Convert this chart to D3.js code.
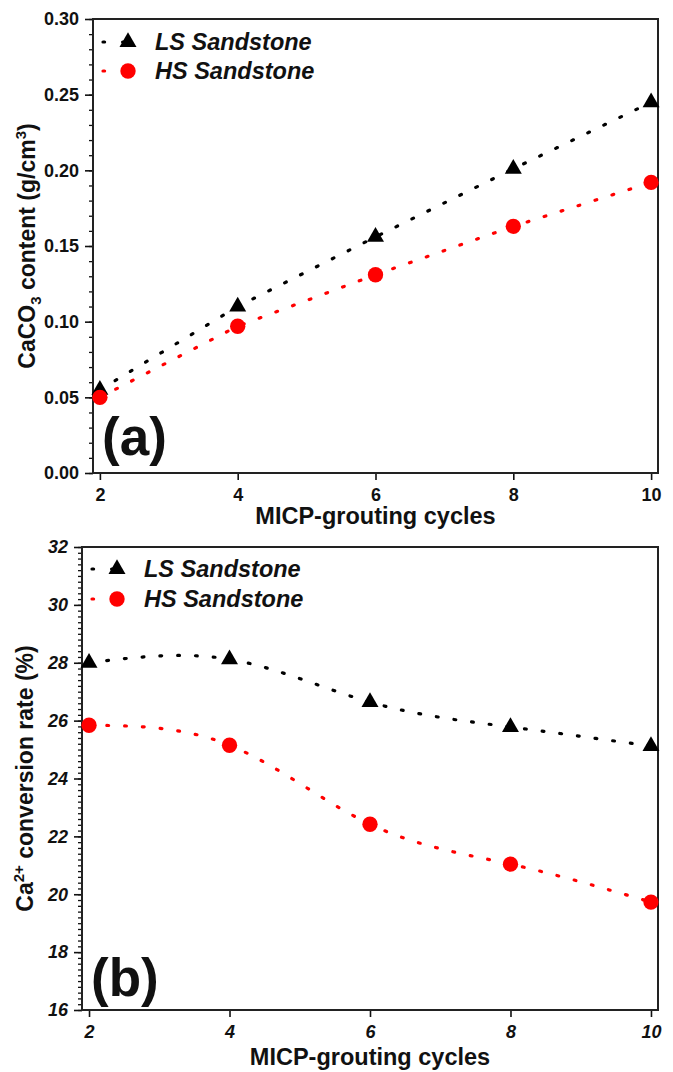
<!DOCTYPE html>
<html>
<head>
<meta charset="utf-8">
<script src="https://cdn.jsdelivr.net/npm/d3@7"></script>
<style>
  html, body { margin: 0; padding: 0; background: #fff; }
  svg { display: block; font-family: "Liberation Sans", Arial, sans-serif; }
</style>
</head>
<body>
<div id="chart"></div>
<script>
// data
const cycles = [2, 4, 6, 8, 10];
const lsContent = [0.055, 0.110, 0.156, 0.201, 0.245];
const hsContent = [0.050, 0.097, 0.131, 0.163, 0.192];
const lsConversion = [28.0, 28.12, 26.64, 25.78, 25.12];
const hsConversion = [25.84, 25.15, 22.42, 21.04, 19.73];
const contentTicks = [0.00, 0.05, 0.10, 0.15, 0.20, 0.25, 0.30];
const conversionTicks = [16, 18, 20, 22, 24, 26, 28, 30, 32];
const seriesNames = ['LS Sandstone', 'HS Sandstone'];

const W = 673, H = 1072;
const svg = d3.select('#chart').append('svg')
  .attr('width', W)
  .attr('height', H);

function drawPanel(p) {
  const x = d3.scaleLinear().domain([1.9, 10.1]).range([p.left, p.right]);
  const y = d3.scaleLinear().domain(p.yDomain).range([p.bottom, p.top]);
  const g = svg.append('g');

  // minor y ticks
  g.append('g')
    .attr('transform', `translate(${p.left},0)`)
    .call(d3.axisLeft(y).tickValues(p.minor).tickSize(4).tickFormat(''))
    .call(a => a.select('.domain').remove())
    .call(a => a.selectAll('line').attr('stroke', '#111').attr('stroke-width', 1.3));

  // major y axis
  g.append('g')
    .attr('transform', `translate(${p.left},0)`)
    .call(d3.axisLeft(y).tickValues(p.yTicks).tickSize(8).tickPadding(6).tickFormat(p.yFormat))
    .call(a => a.select('.domain').remove())
    .call(a => a.selectAll('line').attr('stroke', '#111').attr('stroke-width', 1.6))
    .call(a => a.selectAll('text')
      .attr('font-size', 18).attr('font-weight', 'bold')
      .attr('font-style', p.italicTicks ? 'italic' : 'normal')
      .attr('fill', '#111'));

  // x axis
  g.append('g')
    .attr('transform', `translate(0,${p.bottom})`)
    .call(d3.axisBottom(x).tickValues(cycles).tickSize(7).tickPadding(8).tickFormat(d3.format('d')))
    .call(a => a.select('.domain').remove())
    .call(a => a.selectAll('line').attr('stroke', '#111').attr('stroke-width', 1.6))
    .call(a => a.selectAll('text')
      .attr('font-size', 18).attr('font-weight', 'bold')
      .attr('font-style', p.italicTicks ? 'italic' : 'normal')
      .attr('fill', '#111'));

  // frame
  g.append('rect')
    .attr('x', p.left).attr('y', p.top)
    .attr('width', p.right - p.left).attr('height', p.bottom - p.top)
    .attr('fill', 'none').attr('stroke', '#222').attr('stroke-width', 2);

  const line = d3.line()
    .x((d, i) => x(cycles[i]))
    .y(d => y(d))
    .curve(p.curve);

  const series = [
    { values: p.ls, color: '#000', shape: 'tri' },
    { values: p.hs, color: '#f00', shape: 'dot' }
  ];

  series.forEach(s => {
    g.append('path')
      .datum(s.values)
      .attr('d', line)
      .attr('fill', 'none')
      .attr('stroke', s.color)
      .attr('stroke-width', 3.2)
      .attr('stroke-linecap', 'round')
      .attr('stroke-dasharray', '1.8 16');
  });

  const tri = d3.symbol().type(d3.symbolTriangle).size(125);
  const dot = d3.symbol().type(d3.symbolCircle).size(185);

  series.forEach(s => {
    g.selectAll(null)
      .data(s.values)
      .enter()
      .append('path')
      .attr('d', s.shape === 'tri' ? tri : dot)
      .attr('transform', (d, i) => `translate(${x(cycles[i])},${y(d)})`)
      .attr('fill', s.color);
  });

  // legend
  series.forEach((s, i) => {
    const ly = p.legendY + i * p.legendGap;
    g.append('line')
      .attr('x1', p.legendX - 25).attr('x2', p.legendX + 14)
      .attr('y1', ly).attr('y2', ly)
      .attr('stroke', s.color).attr('stroke-width', 3.2)
      .attr('stroke-linecap', 'round')
      .attr('stroke-dasharray', '1.6 18');
    g.append('path')
      .attr('d', s.shape === 'tri' ? tri : dot)
      .attr('transform', `translate(${p.legendX},${ly})`)
      .attr('fill', s.color);
    g.append('text')
      .attr('x', p.legendX + 27).attr('y', ly + 8)
      .attr('font-size', 23.5).attr('font-weight', 'bold').attr('font-style', 'italic')
      .attr('fill', '#111')
      .text(seriesNames[i]);
  });

  // panel letter
  g.append('text')
    .attr('x', p.left + 9).attr('y', p.letterY)
    .attr('font-size', 53).attr('font-weight', 'bold')
    .attr('fill', '#111')
    .text(p.letter);

  // x label
  g.append('text')
    .attr('x', (p.left + p.right) / 2).attr('y', p.xLabelY)
    .attr('text-anchor', 'middle')
    .attr('font-size', 23.5).attr('font-weight', 'bold')
    .attr('fill', '#111')
    .text('MICP-grouting cycles');

  // y label
  const yl = g.append('text')
    .attr('transform', `translate(${p.yLabelX},${(p.top + p.bottom) / 2}) rotate(-90)`)
    .attr('text-anchor', 'middle')
    .attr('font-size', 23).attr('font-weight', 'bold')
    .attr('fill', '#111');
  p.yLabel.forEach(part => {
    const t = yl.append('tspan').text(part.t);
    if (part.sub) t.attr('font-size', 15).attr('dy', 6);
    if (part.sup) t.attr('font-size', 15).attr('dy', -9);
    if (part.reset) t.attr('dy', part.reset);
  });
}

drawPanel({
  left: 93, right: 658, top: 19, bottom: 473,
  yDomain: [0, 0.30],
  yTicks: contentTicks,
  minor: d3.range(0, 0.3001, 0.01),
  yFormat: d3.format('.2f'),
  italicTicks: false,
  ls: lsContent, hs: hsContent,
  curve: d3.curveLinear,
  legendX: 128, legendY: 42, legendGap: 29,
  letter: '(a)', letterY: 455,
  xLabelY: 524,
  yLabelX: 35,
  yLabel: [
    { t: 'CaCO' }, { t: '3', sub: true }, { t: ' content (g/cm', reset: -6 },
    { t: '3', sup: true }, { t: ')', reset: 9 }
  ]
});

drawPanel({
  left: 82, right: 658, top: 547, bottom: 1010,
  yDomain: [16, 32],
  yTicks: conversionTicks,
  minor: d3.range(16, 32.001, 0.2),
  yFormat: d3.format('d'),
  italicTicks: true,
  ls: lsConversion, hs: hsConversion,
  curve: d3.curveNatural,
  legendX: 117, legendY: 569, legendGap: 30,
  letter: '(b)', letterY: 996,
  xLabelY: 1065,
  yLabelX: 33,
  yLabel: [
    { t: 'Ca' }, { t: '2+', sup: true }, { t: ' conversion rate (%)', reset: 9 }
  ]
});
</script>
</body>
</html>
